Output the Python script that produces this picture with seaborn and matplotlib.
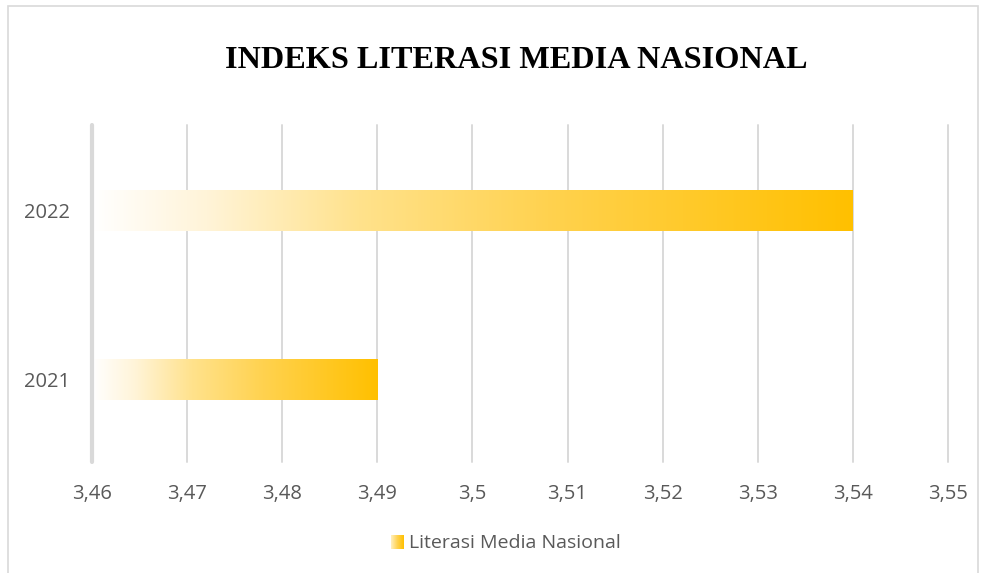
import numpy as np
import pandas as pd
import matplotlib
matplotlib.use("Agg")
import matplotlib.pyplot as plt
import seaborn as sns
from matplotlib.colors import LinearSegmentedColormap
from matplotlib.patches import Rectangle
from matplotlib.ticker import FixedLocator, FuncFormatter

years = ["2022", "2021"]
values = [3.54, 3.49]
series_name = "Literasi Media Nasional"
title = "INDEKS LITERASI MEDIA NASIONAL"
x_ticks = [3.46, 3.47, 3.48, 3.49, 3.50, 3.51, 3.52, 3.53, 3.54, 3.55]

sns.set_theme(style="white")
plt.rcParams['font.family'] = ['Open Sans', 'DejaVu Sans']

fig = plt.figure(figsize=(9.82, 5.73), dpi=100)
fig.patch.set_facecolor("white")
ax = fig.add_axes([92/982, 1 - 462/573, (948-92)/982, (462-125)/573])
ax.set_facecolor("white")

df = pd.DataFrame({"Tahun": years, "Nilai": values})
sns.barplot(data=df, y="Tahun", x="Nilai", orient="h", ax=ax, width=0.243,
            color="#FFC000", edgecolor="none", linewidth=0)

xmin, xmax = x_ticks[0], x_ticks[-1]
ylim = (1.488, -0.506)

# gridlines
for xv in x_ticks:
    if xv == xmin:
        ax.axvline(xv, color="#D9D9D9", lw=3.0, zorder=3, clip_on=False)
    else:
        ax.axvline(xv, color="#D9D9D9", lw=1.4, zorder=0.5, clip_on=False)

gold = LinearSegmentedColormap.from_list(
    "g", [(0.0, "#FFFFFF"), (0.15, "#FFF4D8"), (0.35, "#FFE28C"),
          (0.6, "#FFD24F"), (1.0, "#FFC000")])
swatch = LinearSegmentedColormap.from_list("s", ["#FFF0C0", "#FFD24F", "#FFC000"])
grad = np.linspace(0, 1, 256).reshape(1, -1)
for p in ax.patches:
    x0, y0 = p.get_x(), p.get_y()
    w, h = p.get_width(), p.get_height()
    p.set_facecolor((1, 1, 1, 0))
    im = ax.imshow(grad, cmap=gold, aspect="auto",
                   extent=[xmin, x0 + w, y0 + h, y0],
                   zorder=2, interpolation="bilinear")
    im.set_clip_path(p)
ax.set_xlim(xmin, xmax)
ax.set_ylim(*ylim)
ax.set_yticks([0, 1])
ax.set_yticklabels(years)

ax.xaxis.set_major_locator(FixedLocator(x_ticks))
ax.xaxis.set_major_formatter(FuncFormatter(lambda v, pos: f"{v:g}".replace(".", ",")))
ax.tick_params(axis="both", length=0, labelsize=14.5, labelcolor="#595959")
ax.tick_params(axis="x", pad=15.5)
ax.tick_params(axis="y", pad=16)
ax.set_xlabel("")
ax.set_ylabel("")
for s in ax.spines.values():
    s.set_visible(False)

fig.text(516/982, 1 - 61/573, title, ha="center", va="center",
         fontsize=23.2, fontweight="bold", family=["Liberation Serif", "DejaVu Serif"],
         color="#000000")

# legend
lg_ax = fig.add_axes([391/982, 1 - 549/573, 13/982, 14/573])
lg_ax.imshow(grad, cmap=swatch, aspect="auto", extent=[0, 1, 0, 1])
lg_ax.set_axis_off()
fig.text(409/982, 1 - 543/573, series_name, ha="left", va="center",
         fontsize=14, color="#595959")

# border
fig.add_artist(Rectangle((8/982, -0.05), (978-8)/982, (573-6)/573 + 0.05,
                         transform=fig.transFigure, fill=False,
                         edgecolor="#D9D9D9", lw=1.2))

fig.savefig("out.png", dpi=100, facecolor="white")
